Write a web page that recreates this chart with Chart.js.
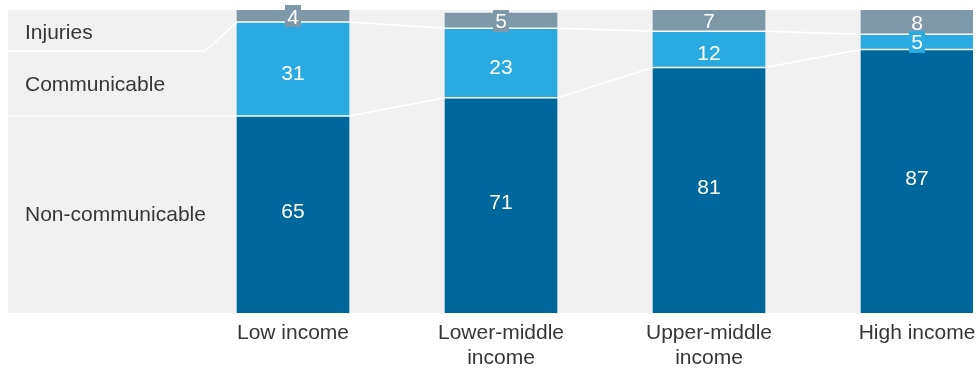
<!DOCTYPE html>
<html>
<head>
<meta charset="utf-8">
<script src="https://cdn.jsdelivr.net/npm/chart.js@4/dist/chart.umd.min.js"></script>
<style>
  html, body { margin: 0; padding: 0; background: #ffffff; }
  #wrap { width: 978px; height: 370px; }
</style>
</head>
<body>
<div id="wrap"><canvas id="c" width="978" height="370"></canvas></div>
<script>
// ---- data ----
const categories = [['Low income'], ['Lower-middle', 'income'], ['Upper-middle', 'income'], ['High income']];
const seriesNames = ['Non-communicable', 'Communicable', 'Injuries'];
const nonCommunicable = [65, 71, 81, 87];
const communicable = [31, 23, 12, 5];
const injuries = [4, 5, 7, 8];

// ---- styles ----
const colors = ['#00679d', '#29abe2', '#7f98a8'];
const labelShift = [-4, 3, 0];   // vertical nudge of value labels per series (px)
const FONT = '"Liberation Sans", Arial, Helvetica, sans-serif';
const FS = 21;
const CAP = FS * 0.716;
const TEXT = '#363636';

const toXY = arr => arr.map((v, i) => ({ x: i, y: v }));

const decorPlugin = {
  id: 'decor',
  beforeDatasetsDraw(chart) {
    const { ctx, chartArea: a } = chart;
    ctx.save();
    ctx.fillStyle = '#f1f1f1';
    ctx.fillRect(a.left, a.top, a.right - a.left, a.bottom - a.top);
    ctx.restore();
  },
  afterDatasetsDraw(chart) {
    const { ctx, chartArea: a } = chart;
    const m0 = chart.getDatasetMeta(0).data;
    const m1 = chart.getDatasetMeta(1).data;
    ctx.save();
    ctx.strokeStyle = '#ffffff';
    ctx.lineWidth = 1.5;
    const firstLeft = m0[0].x - m0[0].width / 2;
    const elbowY = a.top + 41;
    [m0, m1].forEach((els, k) => {
      ctx.beginPath();
      if (k === 0) {
        ctx.moveTo(a.left, els[0].y);
      } else {
        ctx.moveTo(a.left, elbowY);
        ctx.lineTo(firstLeft - 32, elbowY);
      }
      els.forEach(el => {
        const l = el.x - el.width / 2, r = el.x + el.width / 2;
        ctx.lineTo(l, el.y);
        ctx.lineTo(r, el.y);
      });
      ctx.stroke();
    });
    // value labels
    ctx.font = FS + 'px ' + FONT;
    ctx.textAlign = 'center';
    ctx.textBaseline = 'alphabetic';
    chart.data.datasets.forEach((ds, di) => {
      chart.getDatasetMeta(di).data.forEach((el, i) => {
        const v = ds.data[i].y;
        const top = Math.min(el.y, el.base), bot = Math.max(el.y, el.base);
        const h = bot - top;
        const cy = (top + bot) / 2 + (h > 30 ? labelShift[di] : 0);
        const txt = String(v);
        const w = ctx.measureText(txt).width;
        if (h < 18) {
          ctx.fillStyle = colors[di];
          ctx.fillRect(Math.round(el.x - w / 2 - 2), Math.round(cy - 11), Math.round(w + 4), 22);
        }
        ctx.fillStyle = '#ffffff';
        ctx.fillText(txt, el.x, cy + CAP / 2);
      });
    });
    // left panel labels
    ctx.fillStyle = TEXT;
    ctx.textAlign = 'left';
    const yNC = m0[0].y;
    const mids = [(yNC + a.bottom) / 2 - 1, (elbowY + yNC) / 2, (a.top + elbowY) / 2 + 1];
    seriesNames.forEach((n, i) => ctx.fillText(n, 25, mids[i] + CAP / 2));
    ctx.restore();
  }
};

new Chart(document.getElementById('c'), {
  type: 'bar',
  data: {
    datasets: [
      { label: seriesNames[0], data: toXY(nonCommunicable), backgroundColor: colors[0] },
      { label: seriesNames[1], data: toXY(communicable), backgroundColor: colors[1] },
      { label: seriesNames[2], data: toXY(injuries), backgroundColor: colors[2] }
    ]
  },
  options: {
    responsive: false,
    animation: false,
    layout: { padding: { left: 8, top: 10, right: 5, bottom: -8 } },
    datasets: { bar: { barThickness: 112, borderWidth: 0 } },
    plugins: { legend: { display: false }, tooltip: { enabled: false } },
    scales: {
      x: {
        type: 'linear',
        stacked: true,
        offset: false,
        min: -1.3702,
        max: 3.2692,
        grid: { display: false, drawTicks: false, offset: false },
        border: { display: false },
        afterBuildTicks: s => { s.ticks = categories.map((c, i) => ({ value: i })); },
        afterFit: s => { s.paddingLeft = 0; s.paddingRight = 0; },
        ticks: {
          autoSkip: false,
          maxRotation: 0,
          padding: 7.5,
          color: TEXT,
          font: { family: FONT, size: FS, lineHeight: '25px' },
          callback: v => categories[Math.round(v)]
        }
      },
      y: { display: false, stacked: true, min: 0, max: 100 }
    }
  },
  plugins: [decorPlugin]
});
</script>
</body>
</html>
